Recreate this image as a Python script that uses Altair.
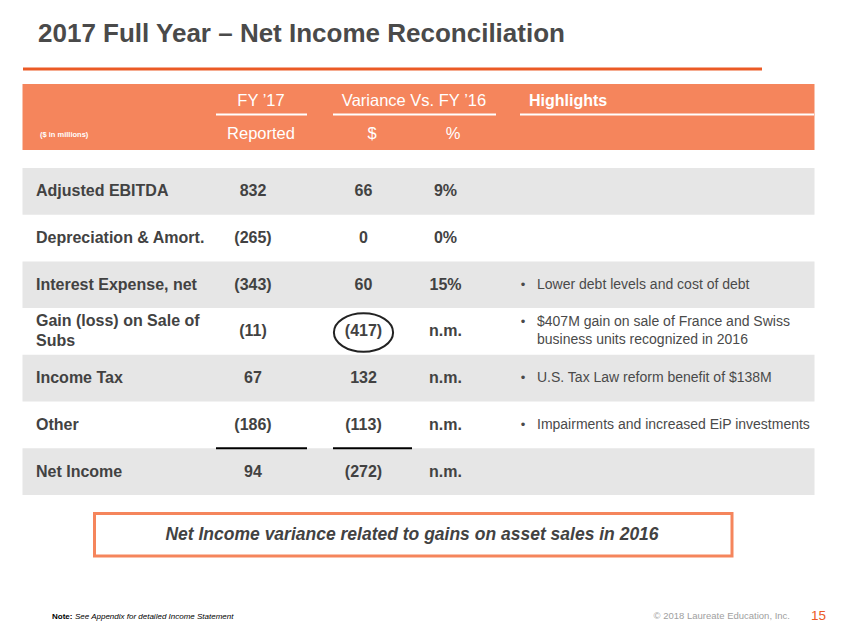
import altair as alt
import pandas as pd

# ---------------- data ----------------
TITLE = "2017 Full Year \u2013 Net Income Reconciliation"
ROW_LABELS = ["Adjusted EBITDA", "Depreciation & Amort.", "Interest Expense, net",
              "Gain (loss) on Sale of\nSubs", "Income Tax", "Other", "Net Income"]
FY17_REPORTED = [832, -265, -343, -11, 67, -186, 94]
VAR_USD = [66, 0, 60, -417, 132, -113, -272]
VAR_PCT = [9, 0, 15, None, None, None, None]
HIGHLIGHTS = ["", "", "Lower debt levels and cost of debt",
              "$407M gain on sale of France and Swiss\nbusiness units recognized in 2016",
              "U.S. Tax Law reform benefit of $138M",
              "Impairments and increased EiP investments", ""]
CIRCLED_ROW = 3          # row whose $ variance is circled
SUBTOTAL_ROW = 5         # row above the total line
CALLOUT = "Net Income variance related to gains on asset sales in 2016"
NOTE_BOLD = "Note:"
NOTE_TEXT = "See Appendix for detailed Income Statement"
COPYRIGHT = "\u00a9 2018 Laureate Education, Inc."
PAGE = "15"

# ---------------- styles ----------------
ORANGE = "#F5855C"
ORANGE_LINE = "#EB5A25"
GRAY_BAND = "#E6E6E6"
TXT = "#424242"
FONT = "Liberation Sans"

W, H = 831, 619
xs = alt.Scale(domain=[8, 8 + W], nice=False, zero=False)
ys = alt.Scale(domain=[8, 8 + H], nice=False, zero=False, reverse=True)

ROW_TOP, ROW_H = 168, 46.7
COL_LABEL, COL_FY, COL_USD, COL_PCT = 36, 253, 363.5, 445.5
TBL_L, TBL_R = 22.5, 814.5
LBL_LH, HL_LH = 20, 18


def fmt(v):
    if v is None:
        return "n.m."
    return f"({abs(v)})" if v < 0 else f"{v}"


def text_layer(rows, **mk):
    df = pd.DataFrame(rows, columns=["x", "y", "t"])
    base = dict(font=FONT, color=TXT)
    base.update(mk)
    return alt.Chart(df).mark_text(**base).encode(
        x=alt.X("x:Q", scale=xs, axis=None),
        y=alt.Y("y:Q", scale=ys, axis=None),
        text="t:N")


def rect_layer(rows, **mk):
    df = pd.DataFrame(rows, columns=["x", "x2", "y", "y2"])
    return alt.Chart(df).mark_rect(**mk).encode(
        x=alt.X("x:Q", scale=xs, axis=None), x2="x2:Q",
        y=alt.Y("y:Q", scale=ys, axis=None), y2="y2:Q")


def hrule_layer(rows, **mk):
    df = pd.DataFrame(rows, columns=["x", "x2", "y"])
    return alt.Chart(df).mark_rule(**mk).encode(
        x=alt.X("x:Q", scale=xs, axis=None), x2="x2:Q",
        y=alt.Y("y:Q", scale=ys, axis=None))


def first_line_y(center, text, lh):
    return center - (text.count("\n")) * lh / 2


n = len(ROW_LABELS)
centers = [ROW_TOP + ROW_H * (i + 0.5) for i in range(n)]

layers = []
# title + orange rule
layers.append(text_layer([(38, 42, TITLE)], fontSize=26, fontWeight="bold",
                         align="left", baseline="alphabetic", color="#4a4a4a"))
layers.append(hrule_layer([(23, 762, 69)], color=ORANGE_LINE, strokeWidth=3))

# header band
layers.append(rect_layer([(TBL_L, TBL_R, 84, 150)], color=ORANGE))
layers.append(hrule_layer([(216, 307, 114.5), (333, 496, 114.5), (520, 814, 114.5)],
                          color="white", strokeWidth=2))
layers.append(text_layer([(261, 106, "FY \u201917"), (414, 106, "Variance Vs. FY \u201916"),
                          (261, 139, "Reported"), (372, 139, "$"), (453, 139, "%")],
                         fontSize=16.5, color="white", align="center", baseline="alphabetic"))
layers.append(text_layer([(529, 106, "Highlights")], fontSize=16, fontWeight="bold",
                         color="white", align="left", baseline="alphabetic"))
layers.append(text_layer([(40, 137, "($ in millions)")], fontSize=7.5, fontWeight="bold",
                         color="white", align="left", baseline="alphabetic"))

# gray bands for alternate rows
layers.append(rect_layer([(TBL_L, TBL_R, ROW_TOP + ROW_H * i, ROW_TOP + ROW_H * (i + 1))
                          for i in range(0, n, 2)], color=GRAY_BAND))

# row labels and values
layers.append(text_layer([(COL_LABEL, first_line_y(c, lab, LBL_LH), lab)
                          for c, lab in zip(centers, ROW_LABELS)],
                         fontSize=16, fontWeight="bold", align="left", baseline="middle",
                         lineBreak="\n", lineHeight=LBL_LH))
vals = []
for c, a, b, p in zip(centers, FY17_REPORTED, VAR_USD, VAR_PCT):
    vals += [(COL_FY, c, fmt(a)), (COL_USD, c, fmt(b)),
             (COL_PCT, c, fmt(p) if p is None else f"{p}%")]
layers.append(text_layer(vals, fontSize=16, fontWeight="bold", align="center",
                         baseline="middle"))

# subtotal rules
sub_y = ROW_TOP + ROW_H * (SUBTOTAL_ROW + 1)
layers.append(hrule_layer([(216, 307, sub_y), (333, 412, sub_y)], color="black",
                          strokeWidth=2))

# circle around the key variance
ell = "M -1 0 A 1 0.65 0 1 1 1 0 A 1 0.65 0 1 1 -1 0 Z"
layers.append(alt.Chart(pd.DataFrame({"x": [COL_USD], "y": [centers[CIRCLED_ROW] + 1]}))
              .mark_point(shape=ell, size=3500, filled=False, stroke="#222222",
                          strokeWidth=2, opacity=1)
              .encode(x=alt.X("x:Q", scale=xs, axis=None),
                      y=alt.Y("y:Q", scale=ys, axis=None)))

# highlights
hl, bl = [], []
for c, h in zip(centers, HIGHLIGHTS):
    if not h:
        continue
    y0 = first_line_y(c, h, HL_LH)
    hl.append((537, y0, h))
    bl.append((523, y0, "\u2022"))
layers.append(text_layer(hl, fontSize=14, align="left", baseline="middle",
                         lineBreak="\n", lineHeight=HL_LH, color="#4a4a4a"))
layers.append(text_layer(bl, fontSize=13, align="center", baseline="middle",
                         color="#4a4a4a"))

# callout box
layers.append(rect_layer([(94.5, 732, 513.5, 556)], fill="white", stroke=ORANGE,
                         strokeWidth=3))
layers.append(text_layer([(412, 535, CALLOUT)], fontSize=17.5, fontWeight="bold",
                         fontStyle="italic", align="center", baseline="middle"))

# footer
layers.append(text_layer([(52, 619, NOTE_BOLD)], fontSize=8, fontWeight="bold",
                         align="left", baseline="alphabetic", color="black"))
layers.append(text_layer([(75, 619, NOTE_TEXT)], fontSize=8, fontStyle="italic",
                         align="left", baseline="alphabetic", color="black"))
layers.append(text_layer([(790, 619, COPYRIGHT)], fontSize=9.5, align="right",
                         baseline="alphabetic", color="#a0a0a0"))
layers.append(text_layer([(818.5, 620, PAGE)], fontSize=13.5, align="center",
                         baseline="alphabetic", color=ORANGE_LINE))

chart = alt.layer(*layers).properties(
    width=W, height=H, autosize=alt.AutoSizeParams(type="none"), padding=0,
    background="white"
).configure_view(stroke=None)

chart.save("out.html", embed_options={"renderer": "svg", "actions": False})
